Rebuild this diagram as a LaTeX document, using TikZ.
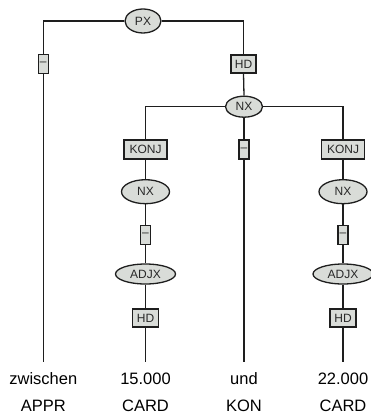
\documentclass[tikz,border=0pt]{standalone}
\usepackage{fontspec}
\setmainfont{Liberation Sans}
\usetikzlibrary{shapes.geometric}
\definecolor{nodefill}{RGB}{217,220,216}
\definecolor{edgecol}{RGB}{30,30,30}
\definecolor{labcol}{RGB}{40,40,40}
\begin{document}
\begin{tikzpicture}[x=1pt,y=-1pt,
  catnode/.style={ellipse,draw=edgecol,fill=nodefill,line width=1.3pt,inner sep=0pt,text=labcol,font=\fontsize{12}{13}\selectfont},
  edgebox/.style={rectangle,draw=edgecol,fill=nodefill,line width=1.3pt,inner sep=0pt,text=labcol,font=\fontsize{12}{13}\selectfont},
  word/.style={anchor=base,inner sep=0pt,text=black,font=\fontsize{16.5}{18}\selectfont},
  conn/.style={draw=edgecol,line width=1.3pt}]
\useasboundingbox (0,0) rectangle (370,419);
% category nodes
\node[catnode,minimum width=36pt,minimum height=24pt] (px) at (143,21) {PX};
\node[catnode,minimum width=37pt,minimum height=21pt] (nx0) at (244,106.7) {NX};
\node[catnode,minimum width=48pt,minimum height=24pt] (nx1) at (145.5,191.7) {NX};
\node[catnode,minimum width=48pt,minimum height=24pt] (nx3) at (343,191.7) {NX};
\node[catnode,minimum width=60pt,minimum height=20pt] (adjx1) at (145.5,274) {ADJX};
\node[catnode,minimum width=60pt,minimum height=20pt] (adjx3) at (343,274) {ADJX};
% edge label boxes
\node[edgebox,minimum width=10pt,minimum height=19pt] (d0) at (43.3,64) {–};
\node[edgebox,minimum width=25pt,minimum height=18pt] (hd0) at (243.5,64) {HD};
\node[edgebox,minimum width=43pt,minimum height=19pt] (k1) at (145.5,149.5) {KONJ};
\node[edgebox,minimum width=10pt,minimum height=19pt] (d2) at (244,149.5) {–};
\node[edgebox,minimum width=43pt,minimum height=19pt] (k3) at (343,149.5) {KONJ};
\node[edgebox,minimum width=10pt,minimum height=19pt] (d1) at (145.5,234.7) {–};
\node[edgebox,minimum width=10pt,minimum height=19pt] (d3) at (343,234.7) {–};
\node[edgebox,minimum width=26pt,minimum height=18pt] (hd1) at (145.5,318) {HD};
\node[edgebox,minimum width=26pt,minimum height=18pt] (hd3) at (343,318) {HD};
% terminal ends
\coordinate (e0) at (43.3,362);
\coordinate (e1) at (145.5,362);
\coordinate (e2) at (244,362);
\coordinate (e3) at (343,362);
% words
\node[word] (w0) at (43.3,384) {zwischen};
\node[word] (w1) at (145.5,384) {15.000};
\node[word] (w2) at (244,384) {und};
\node[word] (w3) at (343,384) {22.000};
\node[word] (t0) at (43.3,411) {APPR};
\node[word] (t1) at (145.5,411) {CARD};
\node[word] (t2) at (244,411) {KON};
\node[word] (t3) at (343,411) {CARD};
% connectors
\draw[conn] (px.west) -| (d0.north);
\draw[conn] (d0.south) -- (e0);
\draw[conn] (px.east) -| (hd0.north);
\draw[conn] (hd0.south) -- (nx0.north);
\draw[conn] (nx0.west) -| (k1.north);
\draw[conn] (nx0.east) -| (k3.north);
\draw[conn] (nx0.south) -- (d2.north);
\draw[conn] (d2.south) -- (e2);
\draw[conn] (k1.south) -- (nx1.north);
\draw[conn] (nx1.south) -- (d1.north);
\draw[conn] (d1.south) -- (adjx1.north);
\draw[conn] (adjx1.south) -- (hd1.north);
\draw[conn] (hd1.south) -- (e1);
\draw[conn] (k3.south) -- (nx3.north);
\draw[conn] (nx3.south) -- (d3.north);
\draw[conn] (d3.south) -- (adjx3.north);
\draw[conn] (adjx3.south) -- (hd3.north);
\draw[conn] (hd3.south) -- (e3);
\end{tikzpicture}
\end{document}
